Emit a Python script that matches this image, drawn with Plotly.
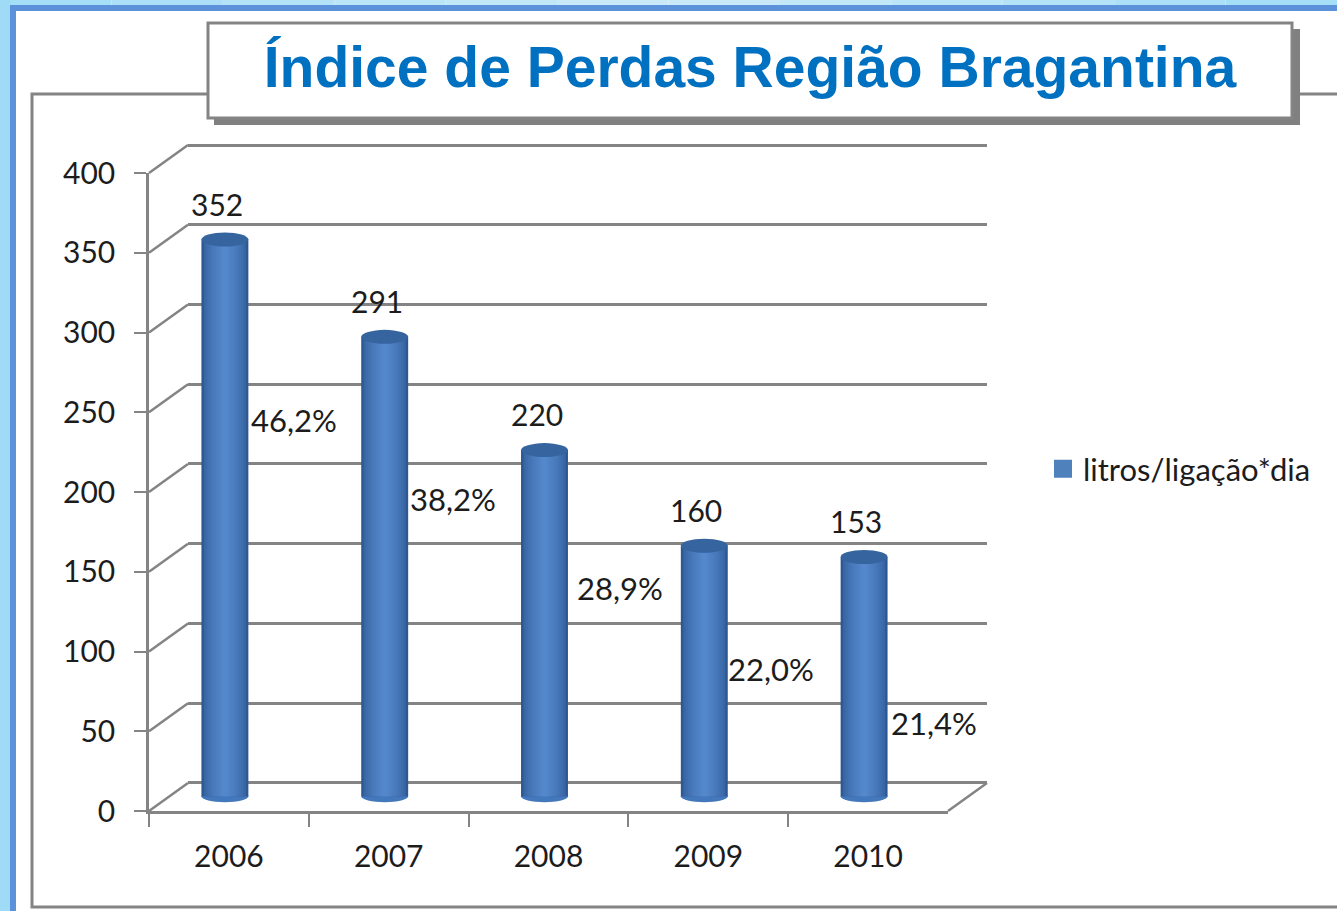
import plotly.graph_objects as go

years = ["2006", "2007", "2008", "2009", "2010"]
litros = [352, 291, 220, 160, 153]
perdas = ["46,2%", "38,2%", "28,9%", "22,0%", "21,4%"]
y_ticks = [0, 50, 100, 150, 200, 250, 300, 350, 400]
series_name = "litros/ligação*dia"
title_text = "Índice de Perdas Região Bragantina"

# label placement (pixel offsets from the bar top)
pct_dx = [69, 68, 75, 67, 70]
pct_dy = [-180, -162, -138, -123, -166]

W, H = 1337, 911
GREY = "#848484"
FONT = "Lato"
TXT = "#1c1c1c"

# pixel layout
X0, X1 = 149, 948
Y0, Y400 = 811, 173
DX, DY = 39, 28
BAR_X = -4
BAR_Y0 = 801
PPU = (Y0 - Y400) / 400
BAR_MIN = -12
BAR_W = 47 / 160
LIFT = 3
CAT_RANGE = [-0.5, 4.5]
BACK_PAD = 5

def px(x): return x / W
def py(y): return 1 - y / H

fig = go.Figure()

# main axes carrier and back-wall carrier come first so the bars paint over them
fig.add_trace(go.Scatter(x=years, y=[None] * 5, mode="markers", showlegend=False, hoverinfo="skip"))
fig.add_trace(go.Scatter(x=years, y=[None] * 5, mode="markers", xaxis="x2", yaxis="y2", showlegend=False, hoverinfo="skip"))

def lerp(a, b, t): return tuple(round(a[i] + (b[i] - a[i]) * t) for i in range(3))
edge, mid = (46, 88, 146), (84, 136, 205)
N = 10
for k in range(N):
    t = k / (N - 1)
    w = BAR_W * (1 - t * 0.92)
    c = lerp(edge, mid, t ** 0.55)
    fig.add_trace(go.Bar(
        x=years, y=[v - LIFT for v in litros], base=LIFT, width=w,
        marker=dict(color="rgb(%d,%d,%d)" % c, line=dict(width=0)),
        xaxis="x3", yaxis="y3", showlegend=False, hoverinfo="skip"))

# legend entry
fig.add_trace(go.Scatter(
    x=[None], y=[None], mode="markers", name=series_name,
    marker=dict(symbol="square", size=16, color="#4f81bd", line=dict(color="#4f81bd", width=2))))

shapes = []
# window background
for i in range(12):
    t = abs(i / 11 - 0.5) * 2
    c = lerp((205, 234, 250), (165, 222, 247), t)
    shapes.append(dict(type="rect", xref="paper", yref="paper", layer="below",
                       x0=i / 12, x1=(i + 1) / 12, y0=py(5), y1=1, line_width=0,
                       fillcolor="rgb(%d,%d,%d)" % c))
shapes.append(dict(type="rect", xref="paper", yref="paper", layer="below", x0=0, x1=px(10), y0=0, y1=1,
                   line_width=0, fillcolor="#9fdbf7"))
shapes.append(dict(type="rect", xref="paper", yref="paper", layer="below", x0=px(10), x1=1, y0=py(11), y1=py(5),
                   line_width=0, fillcolor="#5b92d9"))
shapes.append(dict(type="rect", xref="paper", yref="paper", layer="below", x0=px(10), x1=px(16), y0=0, y1=py(5),
                   line_width=0, fillcolor="#5b92d9"))
# panel
shapes.append(dict(type="path", xref="paper", yref="paper", layer="below",
                   path=f"M {px(1340)} {py(94)} L {px(32)} {py(94)} L {px(32)} {py(907)} L {px(1340)} {py(907)}",
                   line=dict(color=GREY, width=3)))
# title box and shadow
shapes.append(dict(type="rect", xref="paper", yref="paper", layer="below", x0=px(214), x1=px(1300), y0=py(125), y1=py(29),
                   line_width=0, fillcolor="#808080"))
shapes.append(dict(type="rect", xref="paper", yref="paper", layer="below", x0=px(208), x1=px(1292), y0=py(118), y1=py(23),
                   line=dict(color=GREY, width=3), fillcolor="white"))

# perspective connectors
for t in y_ticks:
    yy = Y0 - t * PPU
    shapes.append(dict(type="line", xref="paper", yref="paper", layer="below",
                       x0=px(X0), x1=px(X0 + DX), y0=py(yy), y1=py(yy - DY),
                       line=dict(color=GREY, width=2.5)))
shapes.append(dict(type="line", xref="paper", yref="paper", layer="below",
                   x0=px(X1), x1=px(X1 + DX), y0=py(Y0), y1=py(Y0 - DY),
                   line=dict(color=GREY, width=2.5)))

# cylinder caps
for i, v in enumerate(litros):
    shapes.append(dict(type="circle", xref="x3", yref="y3", ysizemode="pixel", yanchor=LIFT, layer="below",
                       x0=i - BAR_W / 2, x1=i + BAR_W / 2, y0=-6, y1=6, line_width=0, fillcolor="#4478bc"))
    shapes.append(dict(type="circle", xref="x3", yref="y3", ysizemode="pixel", yanchor=v, layer="above",
                       x0=i - BAR_W / 2, x1=i + BAR_W / 2, y0=-7, y1=7, line_width=0, fillcolor="#35649f"))

ann = []
for i, v in enumerate(litros):
    ann.append(dict(x=i, y=v, xref="x3", yref="y3", text=str(v), showarrow=False,
                    xshift=-8, yshift=36, font=dict(family=FONT, size=30, color=TXT)))
    ann.append(dict(x=i, y=v, xref="x3", yref="y3", text=perdas[i], showarrow=False,
                    xshift=pct_dx[i], yshift=pct_dy[i], font=dict(family=FONT, size=31, color=TXT)))

ax_common = dict(showgrid=False, zeroline=False)
fig.update_layout(
    width=W, height=H, margin=dict(l=0, r=0, t=0, b=0, autoexpand=False),
    paper_bgcolor="white", plot_bgcolor="rgba(0,0,0,0)",
    barmode="overlay", shapes=shapes, annotations=ann,
    font=dict(family=FONT, size=30, color=TXT),
    title=dict(text=title_text, x=750 / W, xanchor="center", y=py(67), yanchor="middle",
               font=dict(family="Liberation Sans", size=57, color="#0070c0", weight="bold")),
    legend=dict(x=px(1043), y=py(469), xanchor="left", yanchor="middle", bgcolor="rgba(0,0,0,0)",
                font=dict(family=FONT, size=31, color=TXT), itemwidth=30),
    xaxis=dict(domain=[px(X0), px(X1)], type="category", categoryorder="array", categoryarray=years, range=CAT_RANGE,
               tickson="boundaries", ticks="outside", ticklen=13, tickwidth=2, tickcolor=GREY,
               showline=True, linecolor=GREY, linewidth=2.5, anchor="y", ticklabelstandoff=17, **ax_common),
    yaxis=dict(domain=[py(Y0), py(Y400)], range=[0, 400], tickvals=y_ticks, ticks="outside", ticklen=12,
               tickwidth=2, tickcolor=GREY, showline=True, linecolor=GREY, linewidth=2.5, anchor="x",
               ticklabelstandoff=13, **ax_common),
    xaxis2=dict(domain=[px(X0 + DX), px(X1 + DX)], type="category", categoryorder="array", categoryarray=years,
                range=CAT_RANGE, visible=False, anchor="y2"),
    yaxis2=dict(domain=[py(Y0 - DY + BACK_PAD * PPU), py(Y400 - DY - BACK_PAD * PPU)], range=[-BACK_PAD, 400 + BACK_PAD],
                tickvals=y_ticks, showticklabels=False, showgrid=True, gridcolor=GREY, gridwidth=2.5,
                zeroline=False, showline=False, ticks="", anchor="x2"),
    xaxis3=dict(domain=[px(X0 + BAR_X), px(X1 + BAR_X)], type="category", categoryorder="array", categoryarray=years,
                range=CAT_RANGE, visible=False, anchor="y3"),
    yaxis3=dict(domain=[py(BAR_Y0 - BAR_MIN * PPU), py(BAR_Y0 - 400 * PPU)], range=[BAR_MIN, 400],
                visible=False, anchor="x3"),
)

fig.write_html("out.html", config={"displayModeBar": False},
               post_script="document.body.style.margin='0';document.body.style.overflow='hidden';")
